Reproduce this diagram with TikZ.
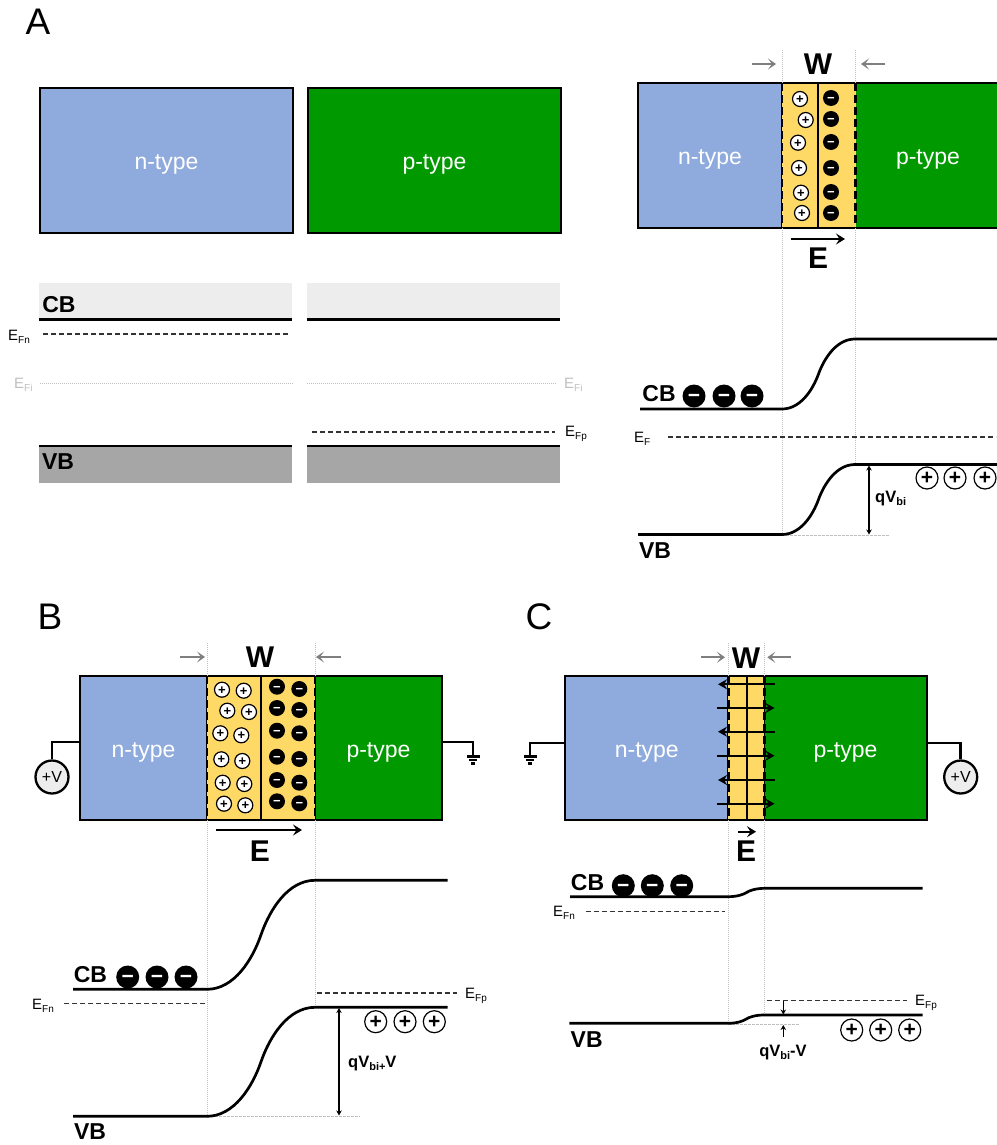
\documentclass[tikz,border=0pt]{standalone}
\usepackage{fontspec}
\setmainfont{Liberation Sans}
\usetikzlibrary{arrows.meta}
\definecolor{nblue}{HTML}{8FAADC}
\definecolor{pgreen}{HTML}{009900}
\definecolor{depl}{HTML}{FFD966}
\definecolor{cbgray}{HTML}{EDEDED}
\definecolor{vbgray}{HTML}{A6A6A6}
\definecolor{arrgray}{HTML}{7F7F7F}
\definecolor{dotgray}{HTML}{BFBFBF}
\newcommand{\fsz}[1]{\fontsize{#1}{#1}\selectfont}
\newcommand{\Elab}[1]{\fsz{15}E\raisebox{-3pt}{\fsz{10}#1}}
\newcommand{\qlab}[2]{\fsz{16.5}\bfseries qV\raisebox{-3pt}{\fsz{11}#1}#2}
% band: x-start, y-low, x-a, x-b, y-high, x-end
\newcommand{\bandline}[6]{%
  \pgfmathsetmacro{\bandw}{#4-#3}\pgfmathsetmacro{\bandh}{#2-#5}%
  \draw[bandln] (#1,#2) -- (#3,#2)
    .. controls ({#3+.25*\bandw},#2) and ({#3+.42*\bandw},{#2-.27*\bandh}) .. ({#3+.5*\bandw},{#2-.5*\bandh})
    .. controls ({#3+.58*\bandw},{#2-.73*\bandh}) and ({#3+.75*\bandw},#5) .. (#4,#5)
    -- (#6,#5);}
\newcommand{\groundsym}[2]{%
  \fill (#1-6.5,#2) rectangle (#1+6.5,#2+3);
  \fill (#1-4,#2+4.4) rectangle (#1+4,#2+6);
  \fill (#1-2.2,#2+7.4) rectangle (#1+2.2,#2+10);}
\tikzset{
  x=1pt,y=-1pt,
  region/.style={draw=black,line width=2.3pt,inner sep=0pt,text=white,font=\fsz{23},text height=24pt,text depth=6pt},
  deplside/.style={line width=2.5pt,dash pattern=on 8pt off 4pt},
  midline/.style={line width=1.8pt},
  plusS/.style={circle,draw=black,line width=1.2pt,fill=white,minimum size=15pt,inner sep=0pt,font=\fsz{13}\bfseries,text height=8.6pt,text depth=0pt},
  minusS/.style={circle,fill=black,minimum size=16pt,inner sep=0pt,text=white,font=\fsz{13}\bfseries,text height=8.6pt,text depth=0pt},
  plusL/.style={circle,draw=black,line width=1.2pt,fill=white,minimum size=22pt,inner sep=0pt,font=\fsz{21}\bfseries,text height=13.6pt,text depth=0pt},
  minusL/.style={circle,fill=black,minimum size=23pt,inner sep=0pt,text=white,font=\fsz{21}\bfseries,text height=13.6pt,text depth=0pt},
  bandln/.style={line width=2.7pt},
  fermi/.style={line width=1.1pt,dash pattern=on 5pt off 3pt,draw=black!80},
  vdot/.style={line width=.9pt,dotgray,dash pattern=on 1pt off 1pt},
  hdash/.style={line width=.9pt,dotgray,dash pattern=on 2.5pt off 1.5pt},
  wgray/.style={line width=2pt,arrgray,-{Stealth[length=8pt,width=11pt,inset=4pt]}},
  efield/.style={line width=2pt,-{Stealth[length=9pt,width=11pt,inset=3.5pt]}},
  fline/.style={line width=1.7pt,-{Stealth[length=9pt,width=10pt,inset=3pt]}},
  biarrow/.style={line width=1.1pt,{Stealth[length=5pt,width=5.5pt]}-{Stealth[length=5pt,width=5.5pt]}},
  oneway/.style={line width=1.1pt,-{Stealth[length=5pt,width=5.5pt]}},
  wire/.style={line width=2.5pt},
  vsrc/.style={circle,draw=black,line width=2.3pt,fill=cbgray,minimum size=33pt,inner sep=0pt,font=\fsz{16}},
  txt/.style={inner sep=0pt},
  panel/.style={inner sep=0pt,font=\fsz{37}},
  bandlab/.style={inner sep=0pt,font=\fsz{23}\bfseries},
  biglab/.style={inner sep=0pt,font=\fsz{30}\bfseries},
}
\begin{document}
\begin{tikzpicture}
\useasboundingbox (0,0) rectangle (996,1145);
% ---------- Panel A
\node[panel] (lblA) at (38,22) {A};
\node[region,fill=nblue,minimum width=253pt,minimum height=145pt] (nA) at (166.5,160.5) {n-type};
\node[region,fill=pgreen,minimum width=253pt,minimum height=145pt] (pA) at (434.5,160.5) {p-type};
\fill[cbgray] (39,283) rectangle (292,319);
\fill[cbgray] (307,283) rectangle (560,319);
\fill[vbgray] (39,446) rectangle (292,483);
\fill[vbgray] (307,446) rectangle (560,483);
\draw[bandln] (39,319.5) -- (292,319.5);
\draw[bandln] (307,319.5) -- (560,319.5);
\draw[bandln] (39,446) -- (292,446);
\draw[bandln] (307,446) -- (560,446);
\node[bandlab] (cbA) at (59,305) {CB};
\node[bandlab] (vbA) at (58,462) {VB};
\draw[fermi] (43,334) -- (288,334);
\draw[fermi] (312,432) -- (555,432);
\draw[line width=1pt,dotgray,dash pattern=on 1pt off 1pt] (40,383) -- (293,383);
\draw[line width=1pt,dotgray,dash pattern=on 1pt off 1pt] (307,383) -- (557,383);
\node[txt,anchor=west] (efnA) at (8,337) {\Elab{Fn}};
\node[txt,anchor=west,text=dotgray] (efiA) at (14,385) {\Elab{Fi}};
\node[txt,anchor=west,text=dotgray] (efiB) at (564,385) {\Elab{Fi}};
\node[txt,anchor=west] (efpA) at (565,434) {\Elab{Fp}};
% A right
\node[region,fill=nblue,minimum width=144pt,minimum height=145pt] (nR) at (710,155.5) {n-type};
\node[region,fill=pgreen,minimum width=146pt,minimum height=145pt] (pR) at (928,155.5) {p-type};
\fill[depl] (782,83) rectangle (856,228);
\draw[line width=2.3pt] (782,83) -- (856,83) (782,228) -- (856,228);
\draw[deplside] (782,83) -- (782,228);
\draw[deplside] (855.5,83) -- (855.5,228);
\draw[midline] (818,83) -- (818,228);
\foreach \i/\x/\y in {1/800/99,2/805.7/120,3/798/142.7,4/799/168,5/801/192.7,6/802/213}
  \node[plusS] (rp\i) at (\x,\y) {+};
\foreach \i/\y in {1/98,2/119,3/142,4/168,5/192,6/213}
  \node[minusS] (rm\i) at (831,\y) {−};
\node[biglab] (wR) at (818,64) {W};
\node[biglab] (eR) at (818,258) {E};
\coordinate (w1a) at (752,64); \coordinate (w1b) at (776,64);
\coordinate (w2a) at (885,64); \coordinate (w2b) at (861,64);
\draw[wgray] (w1a) -- (w1b);
\draw[wgray] (w2a) -- (w2b);
\coordinate (e1a) at (791,239); \coordinate (e1b) at (845,239);
\draw[efield] (e1a) -- (e1b);
\draw[vdot] (782,50) -- (782,83) (782,228) -- (782,535);
\draw[vdot] (855,50) -- (855,83) (855,228) -- (855,465);
\draw[hdash] (782,535.5) -- (890,535.5);
\bandline{640}{409}{782}{855}{339}{998}
\bandline{638}{534.5}{782}{855}{464.5}{998}
\draw[fermi] (668,437) -- (996,437);
\node[txt,anchor=west] (efR) at (634,439) {\Elab{F}};
\node[bandlab] (cbR) at (659,394) {CB};
\node[bandlab] (vbR) at (655,551) {VB};
\foreach \i/\x in {1/694,2/724,3/752}
  \node[minusL] (rcm\i) at (\x,396) {−};
\foreach \i/\x in {1/927,2/955,3/985}
  \node[plusL] (rvp\i) at (\x,478) {+};
\coordinate (qR1) at (869,465.5); \coordinate (qR2) at (869,534.5);
\draw[biarrow] (qR1) -- (qR2);
\node[txt,anchor=west] (qRl) at (875,499) {\qlab{bi}{}};
% ---------- Panel B
\node[panel] (lblB) at (50,617) {B};
\node[region,fill=nblue,minimum width=127pt,minimum height=144pt] (nB) at (143.5,748) {n-type};
\node[region,fill=pgreen,minimum width=127pt,minimum height=144pt] (pB) at (378.5,748) {p-type};
\fill[depl] (207,676) rectangle (315,820);
\draw[line width=2.3pt] (207,676) -- (315,676) (207,820) -- (315,820);
\draw[deplside] (207,676) -- (207,820);
\draw[deplside] (315,676) -- (315,820);
\draw[midline] (260.7,676) -- (260.7,820);
\foreach \i/\x/\y in {1/222/689.7,2/243.7/690.7,3/227.3/710.7,4/249/712,5/220.3/733.3,6/241.3/735.3,7/221.3/759.3,8/242.3/761,9/222.7/782.7,10/244.3/784,11/224/803.7,12/245.3/805.3}
  \node[plusS] (bp\i) at (\x,\y) {+};
\foreach \i/\x/\y in {1/277/686.7,2/299.3/689,3/277/708,4/299.3/710,5/277/730.7,6/299.3/733.3,7/277/756.7,8/299.3/759,9/277/780,10/299.3/782.7,11/277/801.3,12/299.3/803.3}
  \node[minusS] (bm\i) at (\x,\y) {−};
\node[biglab] (wB) at (260,657) {W};
\node[biglab] (eB) at (260,851) {E};
\coordinate (w3a) at (180,657); \coordinate (w3b) at (205,657);
\coordinate (w4a) at (341,657); \coordinate (w4b) at (316,657);
\draw[wgray] (w3a) -- (w3b);
\draw[wgray] (w4a) -- (w4b);
\coordinate (e2a) at (216,830); \coordinate (e2b) at (302,830);
\draw[efield] (e2a) -- (e2b);
\node[vsrc] (vB) at (52,777) {+V};
\coordinate (wlB) at (80,742); \coordinate (wrB) at (442,742); \coordinate (gB) at (473,756);
\draw[wire] (wlB) -| (vB.north);
\draw[wire] (wrB) -| (gB);
\groundsym{473}{755}
\draw[vdot] (207,643) -- (207,676) (207,820) -- (207,1116);
\draw[vdot] (315,643) -- (315,676) (315,820) -- (315,1008);
\draw[hdash] (207,1116.5) -- (360,1116.5);
\bandline{73}{989.3}{207}{315}{880.3}{447.7}
\bandline{73}{1116.3}{207}{315}{1007.3}{447.7}
\draw[fermi] (64,1003.7) -- (205,1003.7);
\draw[fermi] (317,993) -- (457,993);
\node[txt,anchor=west] (efnB) at (32,1006) {\Elab{Fn}};
\node[txt,anchor=west] (efpB) at (465,996) {\Elab{Fp}};
\node[bandlab] (cbB) at (90.5,975) {CB};
\node[bandlab] (vbB) at (90,1132) {VB};
\foreach \i/\x in {1/127.7,2/157,3/186}
  \node[minusL] (bcm\i) at (\x,977) {−};
\foreach \i/\x in {1/375.7,2/405,3/434.3}
  \node[plusL] (bvp\i) at (\x,1021.7) {+};
\coordinate (qB1) at (339,1008); \coordinate (qB2) at (339,1115.5);
\draw[biarrow] (qB1) -- (qB2);
\node[txt,anchor=west] (qBl) at (348,1064) {\qlab{bi+}{V}};
% ---------- Panel C
\node[panel] (lblC) at (539,617) {C};
\node[region,fill=nblue,minimum width=163pt,minimum height=144pt] (nC) at (646.8,748) {n-type};
\node[region,fill=pgreen,minimum width=162.4pt,minimum height=144pt] (pC) at (845.5,748) {p-type};
\fill[depl] (728.3,676) rectangle (764.3,820);
\draw[line width=2.3pt] (728.3,676) -- (764.3,676) (728.3,820) -- (764.3,820);
\draw[deplside] (728.3,676) -- (728.3,820);
\draw[deplside] (764.3,676) -- (764.3,820);
\draw[midline] (746.7,676) -- (746.7,820);
\foreach \i/\y in {1/684.3,3/731.7,5/780}{
  \coordinate (fa\i) at (775,\y); \coordinate (fb\i) at (718,\y);
  \draw[fline] (fa\i) -- (fb\i);}
\foreach \i/\y in {2/708,4/755.7,6/803.7}{
  \coordinate (fa\i) at (717.3,\y); \coordinate (fb\i) at (774.5,\y);
  \draw[fline] (fa\i) -- (fb\i);}
\node[biglab] (wC) at (746,658) {W};
\node[biglab] (eC) at (746,851) {E};
\coordinate (w5a) at (701.3,657.3); \coordinate (w5b) at (725,657.3);
\coordinate (w6a) at (790.7,657.3); \coordinate (w6b) at (767.3,657.3);
\draw[wgray] (w5a) -- (w5b);
\draw[wgray] (w6a) -- (w6b);
\coordinate (e3a) at (738.3,831.7); \coordinate (e3b) at (756,831.7);
\draw[efield] (e3a) -- (e3b);
\node[vsrc] (vC) at (960.7,777) {+V};
\coordinate (wlC) at (565.3,743); \coordinate (wrC) at (927,743); \coordinate (gC) at (530,756);
\draw[wire] (wlC) -| (gC);
\draw[wire] (wrC) -| (vC.north);
\groundsym{530}{755}
\draw[vdot] (728.5,643) -- (728.5,676) (728.5,820) -- (728.5,1023);
\draw[vdot] (764.5,643) -- (764.5,676) (764.5,820) -- (764.5,1015);
\draw[hdash] (728,1024.3) -- (800,1024.3);
\bandline{570}{896.7}{728}{765}{888.3}{922.7}
\bandline{569.3}{1023.3}{728}{764}{1015}{922.7}
\draw[fermi] (586,911.3) -- (725,911.3);
\draw[fermi] (766.7,1000.7) -- (906.7,1000.7);
\node[txt,anchor=west] (efnC) at (553,913) {\Elab{Fn}};
\node[txt,anchor=west] (efpC) at (915,1003) {\Elab{Fp}};
\node[bandlab] (cbC) at (587.5,882.7) {CB};
\node[bandlab] (vbC) at (586.7,1040) {VB};
\foreach \i/\x in {1/623.3,2/652.3,3/681.7}
  \node[minusL] (ccm\i) at (\x,885.7) {−};
\foreach \i/\x in {1/851.7,2/880.7,3/909.7}
  \node[plusL] (cvp\i) at (\x,1030) {+};
\coordinate (qC1) at (783.3,1001); \coordinate (qC2) at (783.3,1014.5);
\coordinate (qC3) at (783.3,1036.7); \coordinate (qC4) at (783.3,1025);
\draw[oneway] (qC1) -- (qC2);
\draw[oneway] (qC3) -- (qC4);
\node[txt] (qCl) at (783,1053) {\qlab{bi}{-V}};
\end{tikzpicture}
\end{document}
